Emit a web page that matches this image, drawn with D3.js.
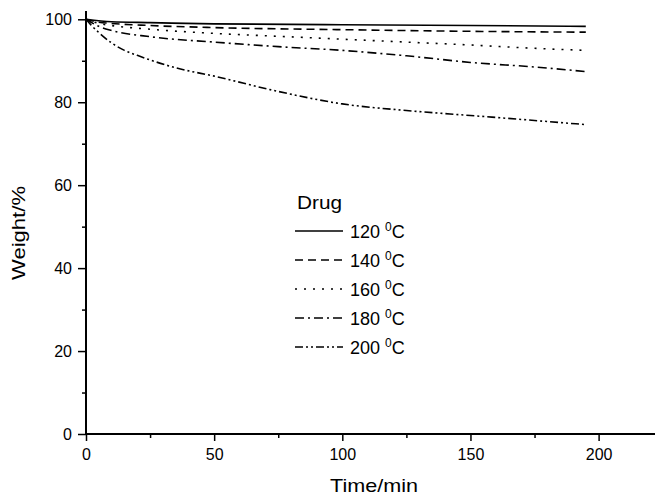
<!DOCTYPE html>
<html><head><meta charset="utf-8">
<script src="https://cdn.jsdelivr.net/npm/d3@7"></script>
<style>
html,body{margin:0;padding:0;background:#fff;}
text{font-family:"Liberation Sans",Arial,sans-serif;fill:#000;}
</style></head>
<body>
<svg id="chart" width="655" height="496"></svg>
<script>
const seriesNames = ["120", "140", "160", "180", "200"];
const times120 = [0, 10, 25, 50, 100, 150, 195];
const w120 = [100, 99.4, 99.2, 98.9, 98.7, 98.5, 98.3];
const times140 = [0, 5, 10, 25, 50, 100, 150, 195];
const w140 = [100, 99.3, 99.0, 98.5, 98.0, 97.5, 97.1, 96.9];
const times160 = [0, 5, 10, 25, 50, 75, 100, 125, 150, 175, 195];
const w160 = [100, 99.0, 98.5, 97.6, 96.6, 95.9, 95.2, 94.5, 93.8, 93.0, 92.5];
const times180 = [0, 5, 10, 25, 50, 75, 100, 125, 150, 175, 195];
const w180 = [100, 98.3, 97.3, 95.8, 94.5, 93.4, 92.5, 91.2, 89.6, 88.5, 87.4];
const times200 = [0, 2, 5, 10, 15, 20, 25, 35, 50, 75, 100, 125, 150, 175, 195];
const w200 = [100, 98.6, 96.8, 94.3, 92.5, 91.3, 90.2, 88.3, 86.3, 82.6, 79.6, 78.0, 76.8, 75.6, 74.6];
const xMajorTicks = [0, 50, 100, 150, 200];
const xMinorTicks = [25, 75, 125, 175];
const yMajorTicks = [0, 20, 40, 60, 80, 100];
const yMinorTicks = [10, 30, 50, 70, 90];
const dashes = ["none", "8,5", "2,7", "9,4,2,4", "8,3,2,3,2,3"];

const timesAll = [times120, times140, times160, times180, times200];
const wAll = [w120, w140, w160, w180, w200];
const series = seriesNames.map((n, i) => ({name: n, dash: dashes[i],
  pts: timesAll[i].map((t, j) => ({t: t, w: wAll[i][j]}))}));

const svg = d3.select("#chart");
const x = d3.scaleLinear().domain([0, 222]).range([86, 655]);
const y = d3.scaleLinear().domain([0, 102]).range([434, 11]);

// curves
const line = d3.line().x(d => x(d.t)).y(d => y(d.w)).curve(d3.curveMonotoneX);
svg.append("g").selectAll("path").data(series).join("path")
  .attr("d", d => line(d.pts))
  .attr("fill", "none").attr("stroke", "#000").attr("stroke-width", 1.6)
  .attr("stroke-dasharray", d => d.dash);

// axes
const xAxis = svg.append("g").attr("transform", "translate(0,434)");
xAxis.call(d3.axisBottom(x).tickValues(xMajorTicks).tickSize(7).tickPadding(8).tickFormat(d3.format("d")));
const xMinor = svg.append("g").attr("transform", "translate(0,434)");
xMinor.call(d3.axisBottom(x).tickValues(xMinorTicks).tickSize(4).tickFormat(""));
const yAxis = svg.append("g").attr("transform", "translate(86,0)");
yAxis.call(d3.axisLeft(y).tickValues(yMajorTicks).tickSize(8).tickPadding(6).tickFormat(d3.format("d")));
const yMinor = svg.append("g").attr("transform", "translate(86,0)");
yMinor.call(d3.axisLeft(y).tickValues(yMinorTicks).tickSize(4).tickFormat(""));
[xAxis, xMinor, yAxis, yMinor].forEach(g => {
  g.select(".domain").attr("stroke-width", 2);
  g.selectAll(".tick line").attr("stroke-width", 1.5);
  g.selectAll(".tick text").attr("font-size", 16).attr("font-family", "Liberation Sans, Arial, sans-serif");
});
xMinor.select(".domain").remove();
yMinor.select(".domain").remove();
xAxis.select(".domain").attr("d", "M86,0H655");
yAxis.select(".domain").attr("d", "M0,434V11");

// axis titles
svg.append("text").attr("x", 374).attr("y", 492).attr("text-anchor", "middle")
  .attr("font-size", 19).attr("textLength", 88).attr("lengthAdjust", "spacingAndGlyphs").text("Time/min");
svg.append("text").attr("transform", "translate(25,233) rotate(-90)").attr("text-anchor", "middle")
  .attr("font-size", 19).attr("textLength", 94).attr("lengthAdjust", "spacingAndGlyphs").text("Weight/%");

// legend
const lg = svg.append("g");
lg.append("text").attr("x", 297).attr("y", 209).attr("font-size", 18)
  .attr("textLength", 45).attr("lengthAdjust", "spacingAndGlyphs").text("Drug");
const rows = lg.selectAll("g.row").data(series).join("g").attr("class", "row")
  .attr("transform", (d, i) => `translate(0,${231 + i * 29})`);
rows.append("line").attr("x1", 295).attr("x2", 343).attr("y1", 0).attr("y2", 0)
  .attr("stroke", "#000").attr("stroke-width", 1.6).attr("stroke-dasharray", d => d.dash);
const t = rows.append("text").attr("x", 350).attr("y", 6.5).attr("font-size", 18);
t.append("tspan").text(d => d.name + " ");
t.append("tspan").attr("font-size", 12).attr("dy", -7).text("0");
t.append("tspan").attr("dy", 7).text("C");
</script>
</body></html>
